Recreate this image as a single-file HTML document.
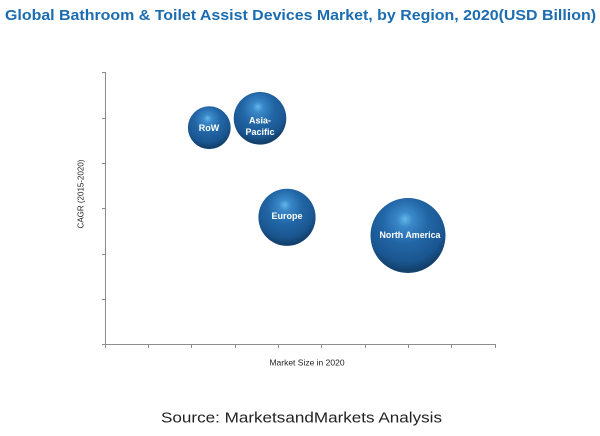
<!DOCTYPE html>
<html>
<head>
<meta charset="utf-8">
<style>
  html, body { margin:0; padding:0; background:#ffffff; }
  svg { display:block; }
</style>
</head>
<body>
<svg width="600" height="436" viewBox="0 0 600 436" xmlns="http://www.w3.org/2000/svg">
  <defs>
    <radialGradient id="sph" cx="0.47" cy="0.35" r="0.72" fx="0.46" fy="0.28">
      <stop offset="0" stop-color="#63b8ea"/>
      <stop offset="0.14" stop-color="#3a88c9"/>
      <stop offset="0.42" stop-color="#2266a6"/>
      <stop offset="0.72" stop-color="#1a5690"/>
      <stop offset="0.88" stop-color="#133f6a"/>
      <stop offset="1" stop-color="#1b5488"/>
    </radialGradient>
  </defs>

  <!-- Title -->
  <text x="5" y="20" font-family="Liberation Sans, sans-serif" font-size="15" font-weight="bold" fill="#1b6cb0" textLength="591" lengthAdjust="spacingAndGlyphs">Global Bathroom &amp; Toilet Assist Devices Market, by Region, 2020(USD Billion)</text>

  <!-- Axes -->
  <g stroke="#8c8c8c" stroke-width="1" fill="none">
    <line x1="105.5" y1="72" x2="105.5" y2="345"/>
    <line x1="105" y1="344.5" x2="496" y2="344.5"/>
    <line x1="102" y1="72.5" x2="105" y2="72.5"/>
    <line x1="102" y1="118.5" x2="105" y2="118.5"/>
    <line x1="102" y1="163.5" x2="105" y2="163.5"/>
    <line x1="102" y1="208.5" x2="105" y2="208.5"/>
    <line x1="102" y1="254.5" x2="105" y2="254.5"/>
    <line x1="102" y1="299.5" x2="105" y2="299.5"/>
    <line x1="102" y1="344.5" x2="105" y2="344.5"/>
    <line x1="105.5" y1="345" x2="105.5" y2="348"/>
    <line x1="148.5" y1="345" x2="148.5" y2="348"/>
    <line x1="191.5" y1="345" x2="191.5" y2="348"/>
    <line x1="235.5" y1="345" x2="235.5" y2="348"/>
    <line x1="278.5" y1="345" x2="278.5" y2="348"/>
    <line x1="321.5" y1="345" x2="321.5" y2="348"/>
    <line x1="365.5" y1="345" x2="365.5" y2="348"/>
    <line x1="408.5" y1="345" x2="408.5" y2="348"/>
    <line x1="451.5" y1="345" x2="451.5" y2="348"/>
    <line x1="495.5" y1="345" x2="495.5" y2="348"/>
  </g>

  <!-- Axis labels -->
  <text x="307" y="365.5" text-anchor="middle" font-family="Liberation Sans, sans-serif" font-size="8.5" fill="#222">Market Size in 2020</text>
  <text transform="translate(83.5,194) rotate(-90)" text-anchor="middle" font-family="Liberation Sans, sans-serif" font-size="8" fill="#222">CAGR (2015-2020)</text>

  <!-- Bubbles -->
  <circle cx="209.3" cy="127.7" r="21.4" fill="url(#sph)"/>
  <circle cx="260" cy="118.3" r="26.3" fill="url(#sph)"/>
  <circle cx="287" cy="217.3" r="28.6" fill="url(#sph)"/>
  <circle cx="408" cy="235.5" r="37.5" fill="url(#sph)"/>

  <!-- Bubble labels -->
  <g font-family="Liberation Sans, sans-serif" font-weight="bold" fill="#ffffff" text-anchor="middle">
    <text x="209" y="130.8" font-size="9">RoW</text>
    <text x="260" y="123.3" font-size="9">Asia-</text>
    <text x="260" y="134.8" font-size="9">Pacific</text>
    <text x="287" y="219" font-size="9">Europe</text>
    <text x="410" y="238.2" font-size="9" textLength="61" lengthAdjust="spacingAndGlyphs">North America</text>
  </g>

  <!-- Source -->
  <text x="161" y="422.5" font-family="Liberation Sans, sans-serif" font-size="15" fill="#222" textLength="281" lengthAdjust="spacingAndGlyphs">Source: MarketsandMarkets Analysis</text>
</svg>
</body>
</html>
